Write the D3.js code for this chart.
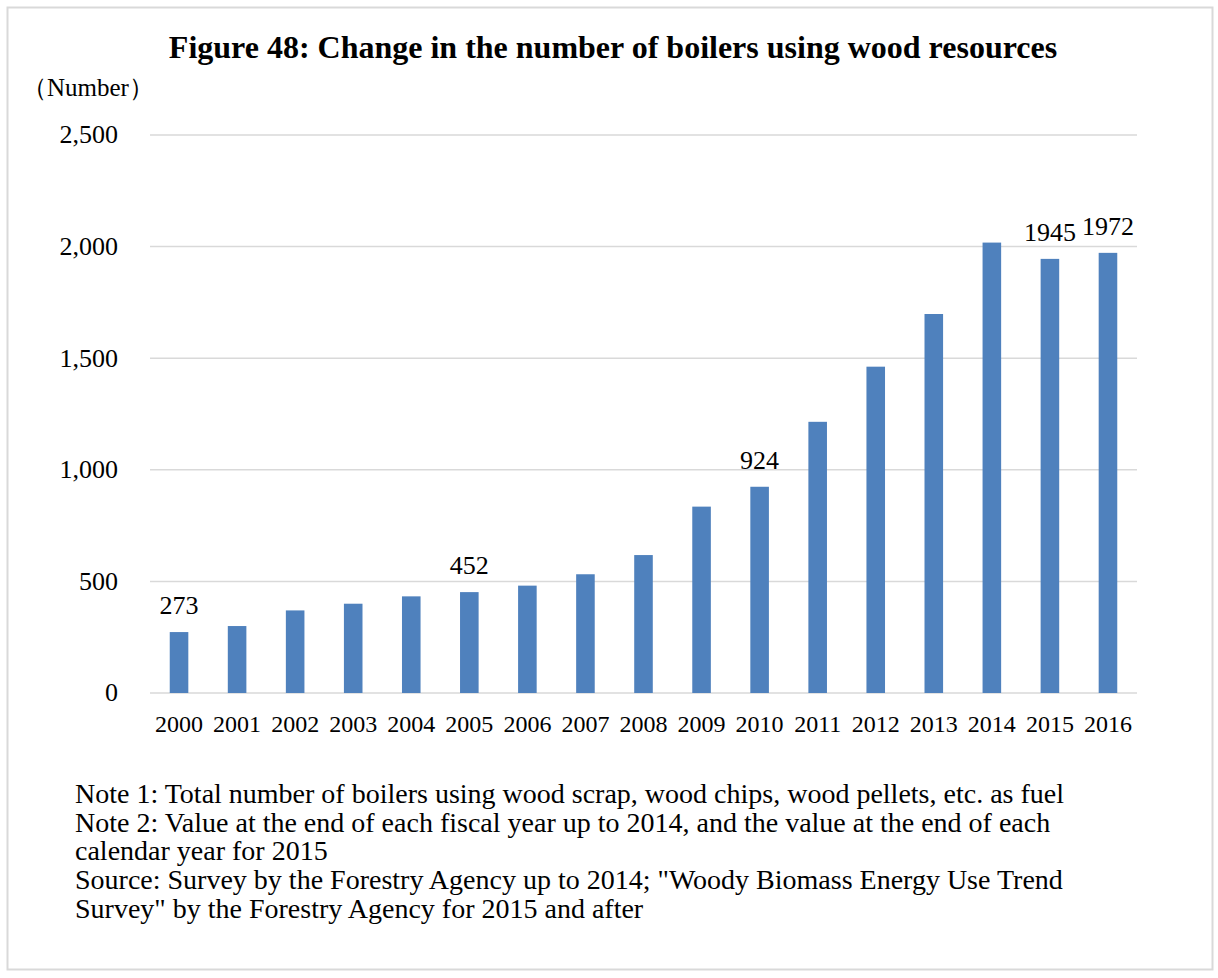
<html>
<head>
<script src="https://d3js.org/d3.v7.min.js"></script>
<style>
body { margin:0; background:#fff; }
text { font-family: "Liberation Serif", "Times New Roman", serif; fill:#000; }
</style>
</head>
<body>
<script>
var width = 1218;
var height = 978;
var margin = {top:135, right:81, bottom:285, left:150};
var w = width - margin.left - margin.right;
var h = height - margin.top - margin.bottom;

// data
var years = ["2000","2001","2002","2003","2004","2005","2006","2007","2008",
             "2009","2010","2011","2012","2013","2014","2015","2016"];
var boilers = [273, 300, 370, 400, 433, 452, 481, 532, 618,
               835, 924, 1215, 1462, 1698, 2018, 1945, 1972];
var labelled = ["2000","2005","2010","2015","2016"];
var yTicks = [0, 500, 1000, 1500, 2000, 2500];
var notes = [
  "Note 1: Total number of boilers using wood scrap, wood chips, wood pellets, etc. as fuel",
  "Note 2: Value at the end of each fiscal year up to 2014, and the value at the end of each",
  "calendar year for 2015",
  "Source: Survey by the Forestry Agency up to 2014; \"Woody Biomass Energy Use Trend",
  "Survey\" by the Forestry Agency for 2015 and after"
];

var svg = d3.select("body").append("svg")
    .attr("width", width)
    .attr("height", height);

svg.append("rect")
    .attr("x", 7.5).attr("y", 7.5)
    .attr("width", 1205).attr("height", 962)
    .attr("fill", "#fff")
    .attr("stroke", "#d9d9d9")
    .attr("stroke-width", 2);

var g = svg.append("g")
    .attr("transform", "translate(" + margin.left + "," + margin.top + ")");

var x = d3.scaleBand()
    .domain(years)
    .range([0, w])
    .paddingInner(0.68)
    .paddingOuter(0.34);
var y = d3.scaleLinear()
    .domain([0, 2500])
    .range([h, 0]);

// gridlines
g.append("g")
  .selectAll("line")
  .data(yTicks)
  .enter().append("line")
    .attr("x1", 0)
    .attr("x2", w)
    .attr("y1", function(d) { return y(d); })
    .attr("y2", function(d) { return y(d); })
    .attr("stroke", "#d9d9d9")
    .attr("stroke-width", 1.5);

var yAxis = d3.axisLeft(y)
    .tickValues(yTicks)
    .tickSize(0)
    .tickPadding(32)
    .tickFormat(d3.format(","));
var ya = g.append("g").call(yAxis);
ya.select(".domain").remove();
ya.selectAll("text")
    .attr("font-family", "Liberation Serif")
    .attr("font-size", 26)
    .attr("fill", "#000")
    .attr("dy", "0.3em");

g.selectAll(".bar")
  .data(boilers)
  .enter().append("rect")
    .attr("class", "bar")
    .attr("x", function(d, i) { return x(years[i]); })
    .attr("y", function(d) { return y(d); })
    .attr("width", x.bandwidth())
    .attr("height", function(d) { return h - y(d); })
    .attr("fill", "#4f81bd");

var xAxis = d3.axisBottom(x).tickSize(0).tickPadding(22);
var xa = g.append("g")
    .attr("transform", "translate(0," + h + ")")
    .call(xAxis);
xa.select(".domain").remove();
xa.selectAll("text")
    .attr("font-family", "Liberation Serif")
    .attr("font-size", 24)
    .attr("fill", "#000");

// value labels
g.selectAll(".val")
  .data(boilers.filter(function(d, i) { return labelled.indexOf(years[i]) >= 0; }))
  .enter().append("text")
    .attr("class", "val")
    .attr("x", function(d) { return x(years[boilers.indexOf(d)]) + x.bandwidth() / 2; })
    .attr("y", function(d) { return y(d) - 18; })
    .attr("text-anchor", "middle")
    .attr("font-size", 26)
    .text(function(d) { return d; });

svg.append("text")
    .attr("x", 613)
    .attr("y", 58)
    .attr("text-anchor", "middle")
    .attr("font-size", 32)
    .attr("font-weight", "bold")
    .text("Figure 48: Change in the number of boilers using wood resources");

svg.append("text")
    .attr("x", 22)
    .attr("y", 96)
    .attr("font-size", 25)
    .text("（Number）");

svg.append("g")
  .selectAll("text")
  .data(notes)
  .enter().append("text")
    .attr("x", 75)
    .attr("y", function(d, i) { return 803 + i * 28.7; })
    .attr("font-size", 28)
    .text(function(d) { return d; });
</script>
</body>
</html>
